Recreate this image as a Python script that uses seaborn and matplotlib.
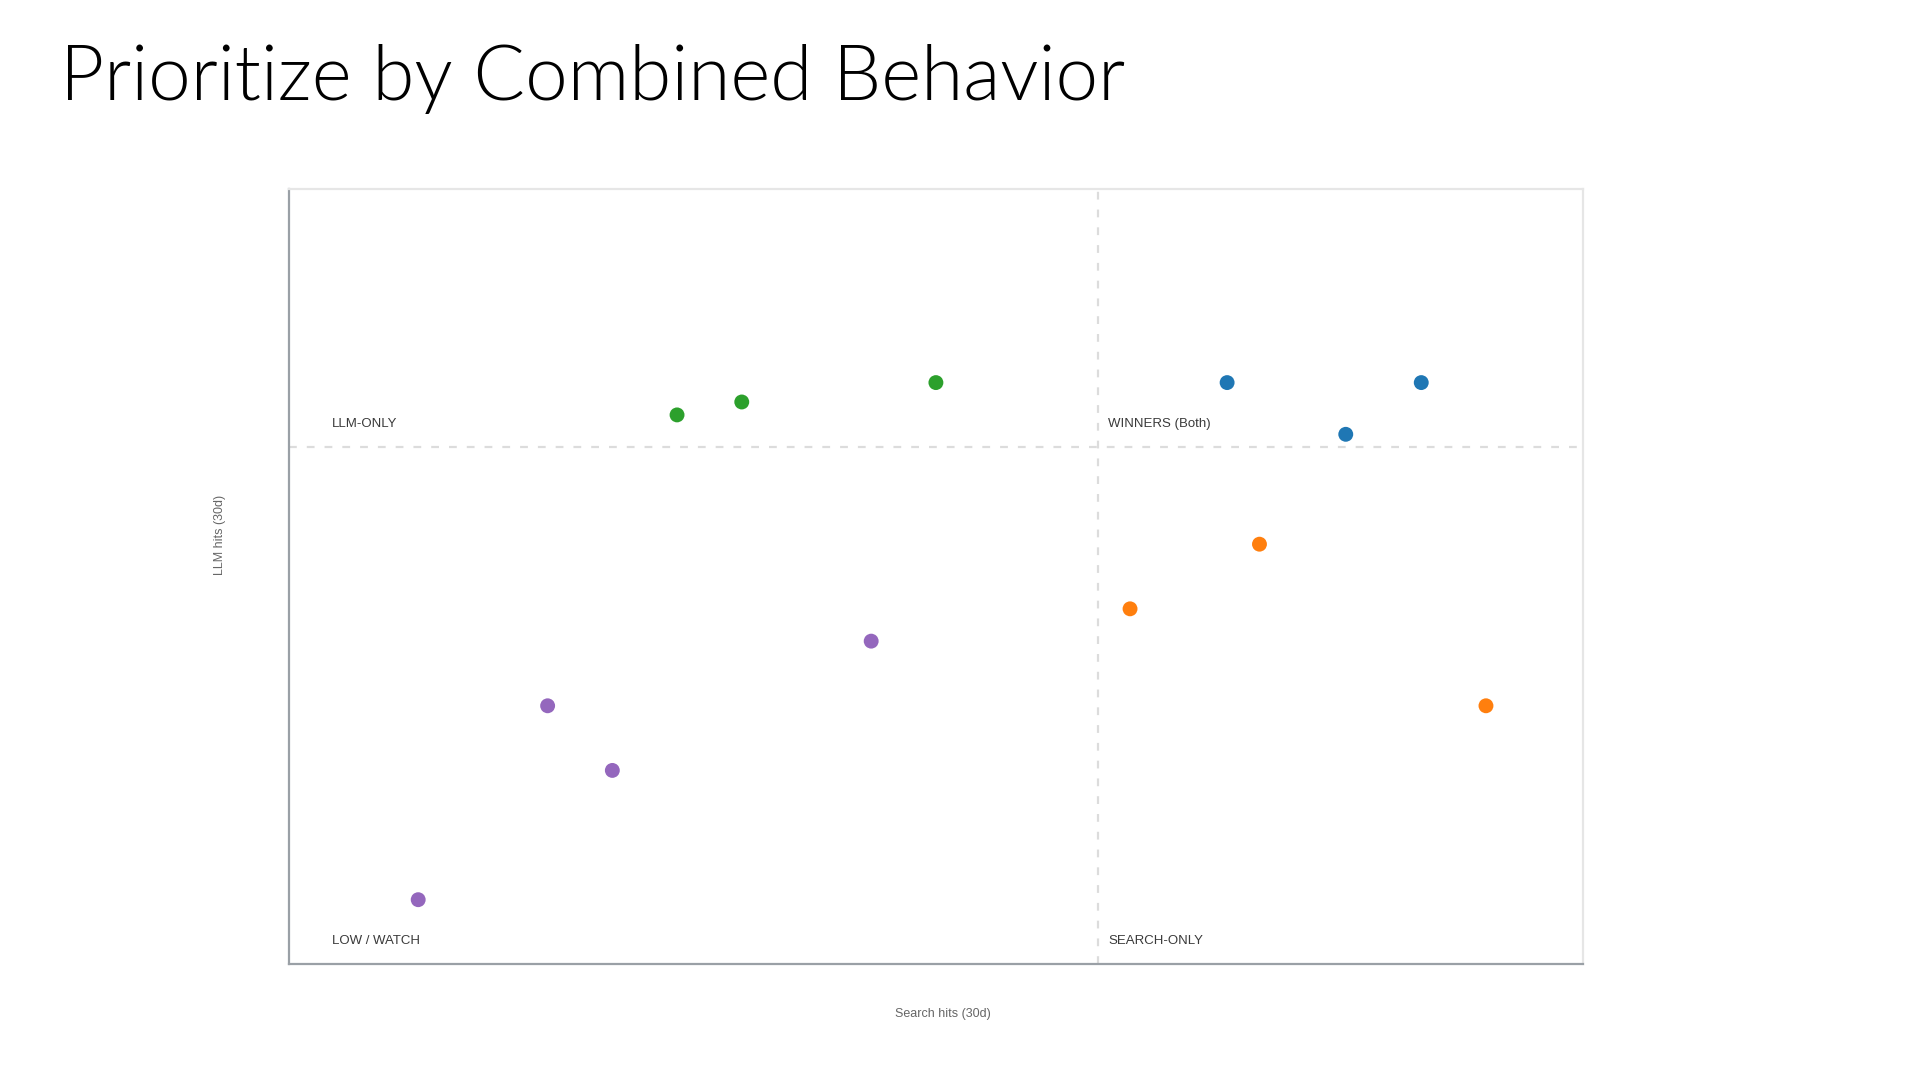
import numpy as np
import pandas as pd
import matplotlib
matplotlib.use("Agg")
import matplotlib.pyplot as plt
import seaborn as sns

# ------------------------------
# Data
# ------------------------------
search_hits = [87, 105, 98, 90, 78, 111, 36, 42, 60, 54, 24, 30, 12]
llm_hits = [90, 90, 82, 65, 55, 40, 85, 87, 90, 50, 40, 30, 10]
quadrant = ["WINNERS (Both)"] * 3 + ["SEARCH-ONLY"] * 3 + ["LLM-ONLY"] * 3 + ["LOW / WATCH"] * 4

search_threshold = 75
llm_threshold = 80
x_max = 120
y_max = 120

quadrant_colors = {
    "WINNERS (Both)": "#1f77b4",
    "SEARCH-ONLY": "#ff7f0e",
    "LLM-ONLY": "#2ca02c",
    "LOW / WATCH": "#9467bd",
}

df = pd.DataFrame({"search": search_hits, "llm": llm_hits, "quadrant": quadrant})

# ------------------------------
# Figure
# ------------------------------
sns.set_theme(style="white")
plt.rcParams["font.family"] = ["Liberation Sans", "DejaVu Sans"]

fig = plt.figure(figsize=(19.2, 10.8), dpi=100)
ax = fig.add_axes([0.1504, 0.1071, 0.6741, 0.7182])

# quadrant lines
ax.axvline(search_threshold, color="#dcdcdc", lw=1.6, ls=(0, (3.5, 4.5)), zorder=1)
ax.axhline(llm_threshold, color="#dcdcdc", lw=1.6, ls=(0, (3.5, 4.5)), zorder=1)

sns.scatterplot(data=df, x="search", y="llm", hue="quadrant", palette=quadrant_colors,
                s=115, linewidth=0, legend=False, ax=ax, zorder=3)

ax.set_xlim(0, x_max)
ax.set_ylim(0, y_max)
ax.set_xticks([])
ax.set_yticks([])

# quadrant labels
lab_kw = dict(fontsize=9.5, color="#3a3a3a", va="baseline", ha="left")
ax.text(4, llm_threshold + 3.2, "LLM-ONLY", **lab_kw)
ax.text(search_threshold + 1, llm_threshold + 3.2, "WINNERS (Both)", **lab_kw)
ax.text(4, 3.2, "LOW / WATCH", **lab_kw)
ax.text(search_threshold + 1, 3.2, "SEARCH-ONLY", **lab_kw)

# axis labels
ax.set_xlabel("Search hits (30d)", fontsize=9, color="#666666")
ax.set_ylabel("LLM hits (30d)", fontsize=9, color="#666666")
ax.xaxis.label.set_va("center")
ax.yaxis.label.set_va("center")
ax.xaxis.set_label_coords(0.505, -0.064)
ax.yaxis.set_label_coords(-0.0531, 0.5535)

# spines
for side in ["left", "bottom"]:
    ax.spines[side].set_color("#9aa0a6")
    ax.spines[side].set_linewidth(1.6)
for side in ["top", "right"]:
    ax.spines[side].set_color("#e6e6e6")
    ax.spines[side].set_linewidth(1.6)

# title
fig.text(0.031, 1 - 100 / 1080, "Prioritize by Combined Behavior", fontsize=55,
         family=["Lato", "DejaVu Sans"], fontweight=300, color="#000000",
         ha="left", va="baseline")

fig.savefig("out.png", dpi=100, facecolor="white")
